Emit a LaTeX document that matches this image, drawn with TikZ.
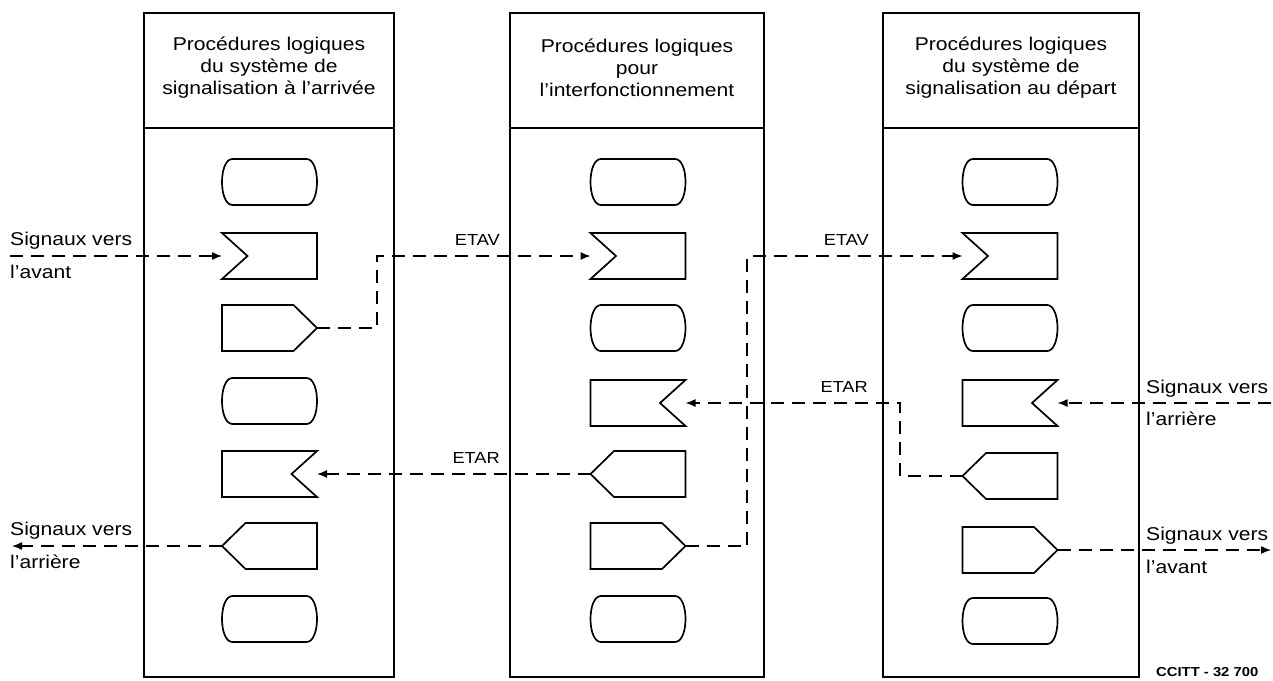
\documentclass[tikz,border=0pt]{standalone}
\usepackage{fontspec}
\setmainfont[FakeStretch=1.14]{Liberation Sans}
\usetikzlibrary{arrows.meta,calc}
\tikzset{
  lane/.style={draw, line width=1.2pt, inner sep=0, outer sep=0},
  slot/.style={inner sep=0, outer sep=0, minimum width=95pt, minimum height=46pt},
  shp/.style={draw, line width=1.7pt, line join=miter},
  conn/.style={draw, line width=1.4pt, dash pattern=on 13pt off 8pt, -{Latex[length=10pt,width=8pt]}},
  hdr/.style={align=center, font=\fontsize{18.5}{22}\selectfont, inner sep=0},
  sig/.style={font=\fontsize{18.5}{22}\selectfont, inner sep=0, anchor=base west},
  lab/.style={font=\fontsize{16}{19}\selectfont, inner sep=0, anchor=base east},
  code/.style={font=\bfseries\fontsize{13}{15}\selectfont, inner sep=0, anchor=base west},
}
\newcommand\termshape[2]{\node[slot] (#1) at (#2) {};
  \draw[shp, shift={(#2)}] (-37,-23) -- (37,-23) .. controls (51,-23) and (51,23) .. (37,23) -- (-37,23) .. controls (-51,23) and (-51,-23) .. (-37,-23) -- cycle;}
\newcommand\inshape[2]{\node[slot] (#1) at (#2) {};
  \draw[shp, shift={(#2)}] (-47.5,-23) -- (47.5,-23) -- (47.5,23) -- (-47.5,23) -- (-22,0) -- cycle;}
\newcommand\notchshape[2]{\node[slot] (#1) at (#2) {};
  \draw[shp, shift={(#2)}] (-47.5,-23) -- (47.5,-23) -- (22,0) -- (47.5,23) -- (-47.5,23) -- cycle;}
\newcommand\outRshape[2]{\node[slot] (#1) at (#2) {};
  \draw[shp, shift={(#2)}] (-47.5,-23) -- (24,-23) -- (47.5,0) -- (24,23) -- (-47.5,23) -- cycle;}
\newcommand\outLshape[2]{\node[slot] (#1) at (#2) {};
  \draw[shp, shift={(#2)}] (47.5,-23) -- (-24,-23) -- (-47.5,0) -- (-24,23) -- (47.5,23) -- cycle;}
\begin{document}
\begin{tikzpicture}[x=1pt,y=-1pt]
\useasboundingbox (0,0) rectangle (1273,680);
% lanes
\node[lane, minimum width=250pt, minimum height=664pt] (p1) at (269,345) {};
\node[lane, minimum width=254pt, minimum height=664pt] (p2) at (637,345) {};
\node[lane, minimum width=256pt, minimum height=664pt] (p3) at (1011,345) {};
\draw[line width=1.2pt] (p1.west |- 0,128) -- (p1.east |- 0,128);
\draw[line width=1.2pt] (p2.west |- 0,128) -- (p2.east |- 0,128);
\draw[line width=1.2pt] (p3.west |- 0,128) -- (p3.east |- 0,128);
% headers
\node[hdr] (h1) at (269,68) {Procédures logiques\\du système de\\signalisation à l’arrivée};
\node[hdr] (h2) at (637,68) {Procédures logiques\\pour\\l’interfonctionnement};
\node[hdr] (h3) at (1011,68) {Procédures logiques\\du système de\\signalisation au départ};
% box 1
\termshape{a1}{269.5,182}
\inshape{a2}{269.5,256}
\outRshape{a3}{269.5,328}
\termshape{a4}{269.5,401}
\notchshape{a5}{269.5,474}
\outLshape{a6}{269.5,546}
\termshape{a7}{269.5,619}
% box 2
\termshape{b1}{638,182}
\inshape{b2}{638,256}
\termshape{b3}{638,328}
\notchshape{b4}{638,403}
\outLshape{b5}{638,474}
\outRshape{b6}{638,546}
\termshape{b7}{638,619}
% box 3
\termshape{c1}{1010,182}
\inshape{c2}{1010,256}
\termshape{c3}{1010,328}
\notchshape{c4}{1010,403}
\outLshape{c5}{1010,476}
\outRshape{c6}{1010,550}
\termshape{c7}{1010,621}
% outer texts
\node[sig] (t1) at (10,245) {Signaux vers};
\node[sig] (t2) at (10,278) {l’avant};
\node[sig] (t3) at (10,535) {Signaux vers};
\node[sig] (t4) at (10,568) {l’arrière};
\node[sig] (t5) at (1146,393) {Signaux vers};
\node[sig] (t6) at (1146,425) {l’arrière};
\node[sig] (t7) at (1146,540) {Signaux vers};
\node[sig] (t8) at (1146,573) {l’avant};
% labels
\node[lab] (l1) at (500,245) {ETAV};
\node[lab] (l2) at (500,463) {ETAR};
\node[lab] (l3) at (869,245) {ETAV};
\node[lab] (l4) at (868,392) {ETAR};
\node[code] (cc) at (1156,676) {CCITT - 32 700};
% connectors
\coordinate (inL) at (10,256);
\coordinate (outL) at (12,546);
\coordinate (inR) at (1271,403);
\coordinate (outR) at (1271,550);
\coordinate (k1) at (377,0);
\coordinate (k2) at (747,0);
\coordinate (k3) at (900,0);
\draw[conn] (inL) -- (a2.west);
\draw[conn] (a3.east) -- (a3.east -| k1) |- (b2.west);
\draw[conn] (b5.west) -- (a5.east);
\draw[conn] (a6.west) -- (outL);
\draw[conn] (b6.east) -- (b6.east -| k2) |- (c2.west);
\draw[conn] (c5.west) -- (c5.west -| k3) |- (b4.east);
\draw[conn] (inR) -- (c4.east);
\draw[conn] (c6.east) -- (outR);
\end{tikzpicture}
\end{document}
